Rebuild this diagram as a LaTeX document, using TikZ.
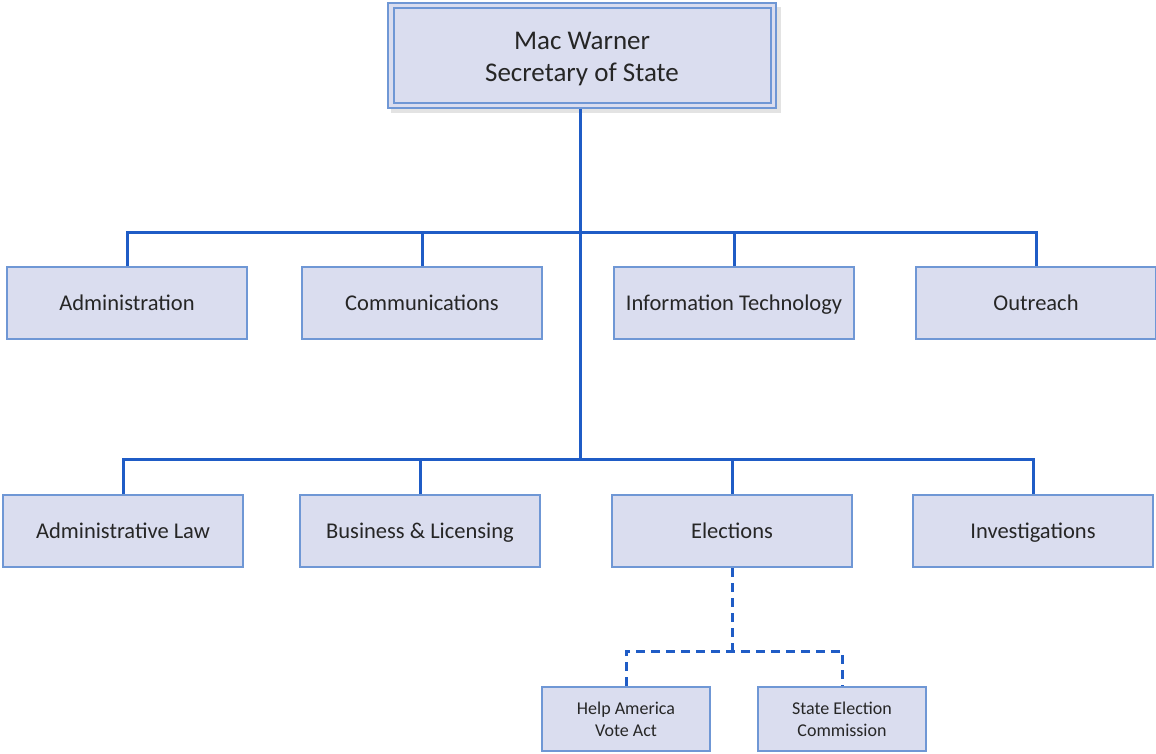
\documentclass[tikz,border=0pt]{standalone}
\usepackage{fontspec}
\setmainfont{Carlito}
\definecolor{linec}{HTML}{1F5CC6}
\definecolor{boxfill}{HTML}{DADDEF}
\definecolor{boxdraw}{HTML}{6F97D5}
\definecolor{txt}{HTML}{262626}
\begin{document}
\begin{tikzpicture}[x=1pt,y=-1pt,
  unit/.style={draw=boxdraw,fill=boxfill,line width=2pt,text=txt,align=center,inner sep=0pt},
  lvl/.style={unit,minimum width=240pt,minimum height=72pt,text height=18.5pt,text depth=3pt,font=\fontsize{22.5}{27}\selectfont},
  small/.style={unit,minimum width=168pt,minimum height=64pt,font=\fontsize{18}{22}\selectfont},
  conn/.style={draw=linec,line width=3pt},
  dconn/.style={conn,dash pattern=on 9pt off 6pt}]
\useasboundingbox (0,0) rectangle (1156,753);
% top box shadow
\fill[black!22,opacity=0.5] (391,7) rectangle (781,113);
\node[unit,minimum width=388pt,minimum height=105pt] (top) at (582,55.5) {};
\node[draw=boxdraw,line width=2pt,minimum width=377pt,minimum height=95pt,inner sep=0pt] (topin) at (582,55.5) {};
\node[text=txt,align=center,inner sep=0pt,font=\fontsize{27}{32}\selectfont] (toptext) at (582,59) {Mac Warner\\Secretary of State};
% level 1
\node[lvl] (adm) at (127,303) {Administration};
\node[lvl] (com) at (422,303) {Communications};
\node[lvl] (it) at (734,303) {Information Technology};
\node[lvl] (out) at (1036,303) {Outreach};
% level 2
\node[lvl] (law) at (123,531) {Administrative Law};
\node[lvl] (bus) at (420,531) {Business \& Licensing};
\node[lvl] (ele) at (732,531) {Elections};
\node[lvl] (inv) at (1033,531) {Investigations};
% level 3
\node[small] (hava) at (626,719) {Help America\\Vote Act};
\node[small] (sec) at (842,719) {State Election\\Commission};
% coordinates
\coordinate (b1) at (580,232);
\coordinate (b2) at (580,459);
\coordinate (b3) at (732,651);
% connectors
\draw[conn] (top.south -| b1) -- (b2);
\draw[conn] (adm.north) |- (b1) -| (out.north);
\draw[conn] (com.north) -- (com.north |- b1);
\draw[conn] (it.north) -- (it.north |- b1);
\draw[conn] (law.north) |- (b2) -| (inv.north);
\draw[conn] (bus.north) -- (bus.north |- b2);
\draw[conn] (ele.north) -- (ele.north |- b2);
\draw[dconn] (ele.south) -- (b3);
\draw[dconn] (hava.north) |- (b3) -| (sec.north);
\end{tikzpicture}
\end{document}
